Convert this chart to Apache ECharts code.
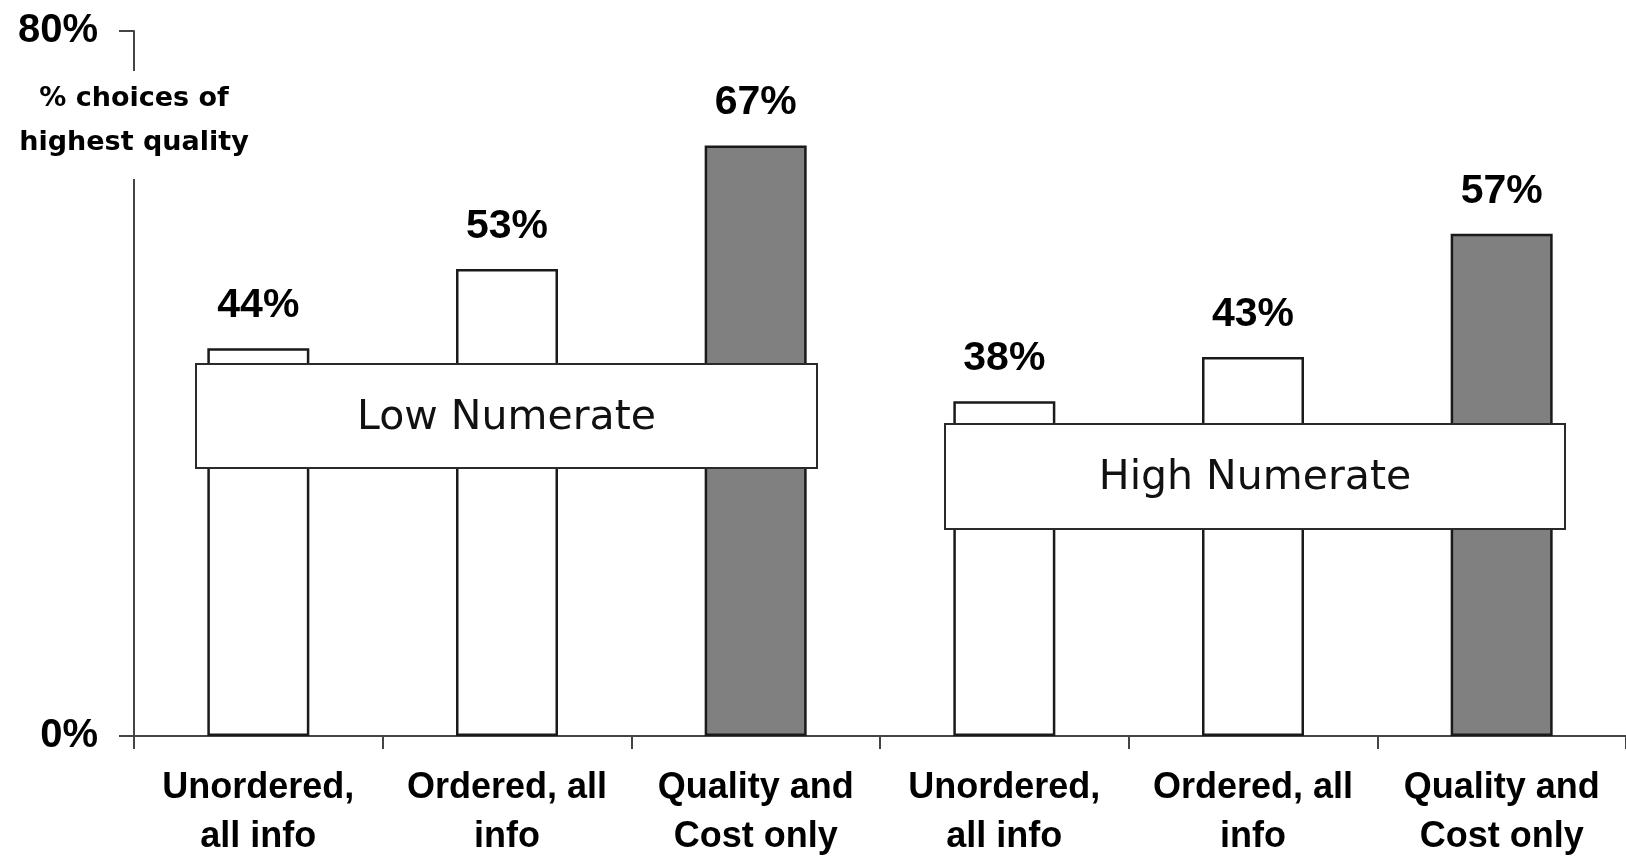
<!DOCTYPE html>
<html>
<head>
<meta charset="utf-8">
<script src="https://cdn.jsdelivr.net/npm/echarts@6/dist/echarts.min.js"></script>
<style>
html,body{margin:0;padding:0;background:#fff;}
#chart{width:1626px;height:861px;}
</style>
</head>
<body>
<div id="chart"></div>
<script>
// ---- data ----
const categories = [
  'Unordered,\nall info', 'Ordered, all\ninfo', 'Quality and\nCost only',
  'Unordered,\nall info', 'Ordered, all\ninfo', 'Quality and\nCost only'
];
const lowNumerate = [44, 53, 67];
const highNumerate = [38, 43, 57];
const yTicks = [0, 80];
const groupNames = ['Low Numerate', 'High Numerate'];
const yAxisTitle = '% choices of\nhighest quality';

const values = lowNumerate.concat(highNumerate);
const isQualityCost = (i) => i % 3 === 2;

const chart = echarts.init(document.getElementById('chart'), null, {renderer: 'canvas'});

const barData = values.map((v, i) => ({
  value: v,
  itemStyle: { color: isQualityCost(i) ? '#808080' : '#ffffff' }
}));

const boxStyle = {
  fill: '#ffffff', stroke: '#2a2a2a', lineWidth: 2
};

function groupBox(x, y, w, h, label) {
  return {
    type: 'group', x: x, y: y, z: 100,
    children: [
      { type: 'rect', z: 100, shape: { x: 0, y: 0, width: w, height: h }, style: boxStyle },
      { type: 'text', z: 101, x: w / 2, y: h / 2 + 2,
        style: { text: label, fill: '#111', font: '41px "DejaVu Sans", Verdana, sans-serif',
                 align: 'center', verticalAlign: 'middle' } }
    ]
  };
}

chart.setOption({
  animation: false,
  backgroundColor: '#ffffff',
  grid: { left: 134, right: 0, top: 31, bottom: 125, containLabel: false, outerBoundsMode: 'none' },
  xAxis: {
    type: 'category',
    data: categories,
    axisLine: { show: true, lineStyle: { color: '#444', width: 2 } },
    axisTick: { show: true, length: 13, lineStyle: { color: '#444', width: 2 } },
    axisLabel: {
      interval: 0, margin: 28, color: '#000',
      fontFamily: '"Liberation Sans", Arial, sans-serif', fontWeight: 'bold',
      fontSize: 36, lineHeight: 49, align: 'center'
    },
    splitLine: { show: false }
  },
  yAxis: {
    type: 'value',
    min: yTicks[0], max: yTicks[1], interval: yTicks[1] - yTicks[0],
    axisLine: { show: true, lineStyle: { color: '#444', width: 2 } },
    axisTick: { show: true, length: 15, lineStyle: { color: '#444', width: 2 } },
    axisLabel: {
      formatter: '{value}%', margin: 36, color: '#000',
      fontFamily: '"Liberation Sans", Arial, sans-serif', fontWeight: 'bold', fontSize: 40
    },
    splitLine: { show: false }
  },
  series: [{
    type: 'bar',
    data: barData,
    barWidth: 102,
    itemStyle: { borderColor: '#1a1a1a', borderWidth: 2.5 },
    label: {
      show: true, position: 'top', distance: 22, formatter: '{c}%', color: '#000',
      fontFamily: '"Liberation Sans", Arial, sans-serif', fontWeight: 'bold', fontSize: 41
    }
  }],
  graphic: [
    {
      type: 'text', z: 100, x: 134, y: 71,
      style: {
        text: yAxisTitle, fill: '#000',
        font: 'bold 27px "DejaVu Sans", Arial, sans-serif',
        lineHeight: 44, align: 'center', verticalAlign: 'top',
        backgroundColor: '#ffffff', padding: [6, 6, 14, 6]
      }
    },
    groupBox(196, 364, 621, 104, groupNames[0]),
    groupBox(945, 424, 620, 105, groupNames[1])
  ]
});
</script>
</body>
</html>
